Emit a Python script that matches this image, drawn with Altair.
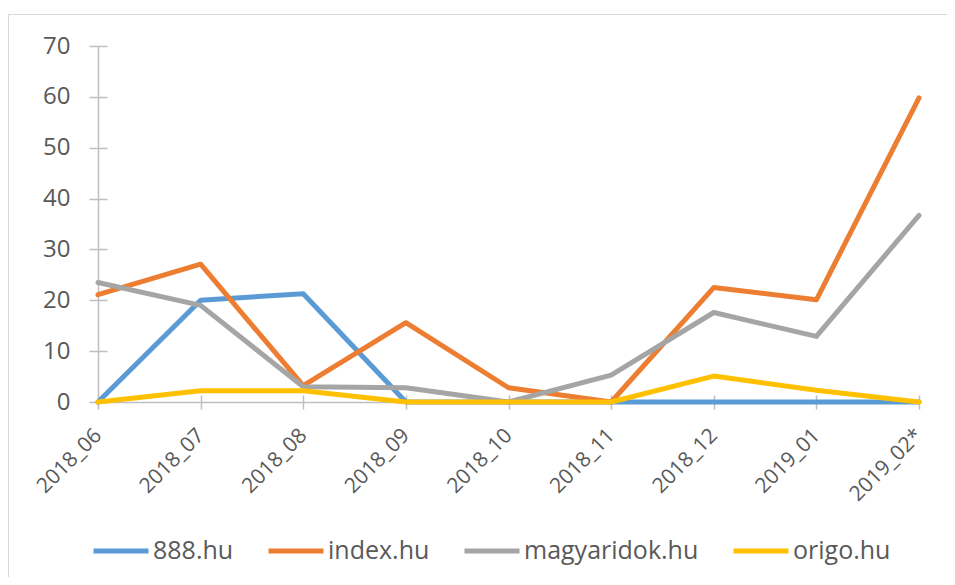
import altair as alt
import pandas as pd

months = ["2018_06", "2018_07", "2018_08", "2018_09", "2018_10",
          "2018_11", "2018_12", "2019_01", "2019_02*"]
series_names = ["888.hu", "index.hu", "magyaridok.hu", "origo.hu"]
colors = ["#5B9BD5", "#ED7D31", "#A5A5A5", "#FFC000"]

v_888 = [0, 20.0, 21.3, 0, 0, 0, 0, 0, 0]
v_index = [21.1, 27.1, 3.2, 15.6, 2.8, 0, 22.5, 20.1, 59.8]
v_magyaridok = [23.5, 19.0, 3.0, 2.8, 0, 5.3, 17.6, 12.9, 36.7]
v_origo = [0, 2.2, 2.2, 0, 0, 0, 5.1, 2.3, 0]

y_ticks = [0, 10, 20, 30, 40, 50, 60, 70]

rows = []
for name, vals in zip(series_names, [v_888, v_index, v_magyaridok, v_origo]):
    for i, (m, v) in enumerate(zip(months, vals)):
        rows.append({"month": m, "value": v, "series": name, "order": i})
df = pd.DataFrame(rows)

FONT = "Open Sans"
AX = "#BFBFBF"
TXT = "#595959"
W, H = 821, 356

x_scale = alt.Scale(domain=months, padding=0)
y_scale = alt.Scale(domain=[0, 70], nice=False)

lines = alt.Chart(df).mark_line(strokeWidth=5, strokeCap="round", strokeJoin="round").encode(
    x=alt.X("month:N", sort=months, scale=x_scale, title=None,
            axis=alt.Axis(orient="bottom", labelAngle=315, labelAlign="right",
                          labelBaseline="middle", labelFontSize=21, labelFont=FONT,
                          labelColor=TXT, labelPadding=23, tickSize=7, tickColor=AX,
                          tickWidth=1.5, domainColor=AX, domainWidth=1.5, grid=False)),
    y=alt.Y("value:Q", scale=y_scale, title=None,
            axis=alt.Axis(orient="left", values=y_ticks, labelFontSize=24, labelFont=FONT,
                          labelColor=TXT, labelPadding=19, tickSize=9, tickColor=AX,
                          tickWidth=1.5, domainColor=AX, domainWidth=1.5, grid=False)),
    color=alt.Color("series:N", sort=series_names,
                    scale=alt.Scale(domain=series_names, range=colors),
                    legend=alt.Legend(title=None, orient="none", direction="horizontal",
                                      legendX=-7, legendY=475, symbolType="stroke",
                                      symbolSize=3025, symbolStrokeWidth=5,
                                      labelFont=FONT, labelFontSize=25, labelColor=TXT,
                                      labelLimit=400, labelOffset=2, columnPadding=24)),
    order=alt.Order("order:Q"),
)

ghost = alt.Chart(df).mark_line(opacity=0).encode(
    x=alt.X("month:N", sort=months, scale=x_scale, title=None,
            axis=alt.Axis(orient="top", offset=-H, labels=False, domain=False,
                          tickSize=7, tickColor=AX, tickWidth=1.5, grid=False)),
    y=alt.Y("value:Q", scale=y_scale, title=None,
            axis=alt.Axis(orient="right", offset=-W, values=y_ticks, labels=False,
                          domain=False, tickSize=9, tickColor=AX, tickWidth=1.5, grid=False)),
    detail="series:N",
)

one = pd.DataFrame({"a": [0]})
border_v = alt.Chart(one).mark_rule(color="#D9D9D9", strokeWidth=1).encode(
    x=alt.value(-89.5), y=alt.value(-31.5), y2=alt.value(545))
border_h = alt.Chart(one).mark_rule(color="#D9D9D9", strokeWidth=1).encode(
    x=alt.value(-89.5), x2=alt.value(865), y=alt.value(-31.5))

chart = alt.layer(border_v, border_h, ghost, lines).resolve_axis(
    x="independent", y="independent"
).properties(
    width=W, height=H,
    autosize=alt.AutoSizeParams(type="none"),
    padding={"left": 90, "top": 38, "right": 28, "bottom": 175},
    background="white",
).configure_view(stroke="transparent")

chart.save("out.html", embed_options={"renderer": "svg", "actions": False})
